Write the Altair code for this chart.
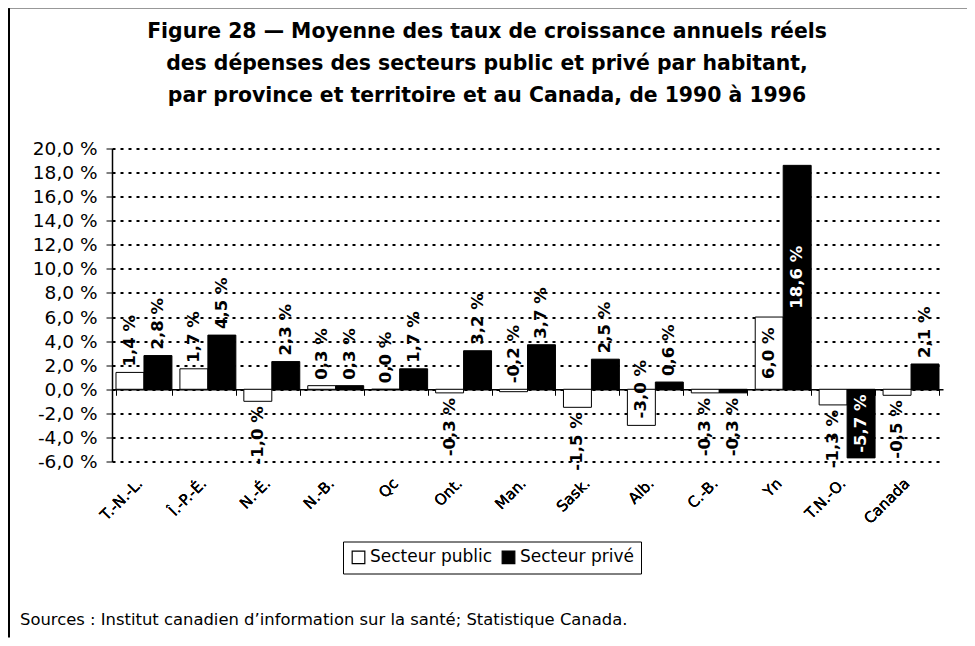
import altair as alt
import pandas as pd

# ---- data ----
categories = ["T.-N.-L.", "Î.-P.-É.", "N.-É.", "N.-B.", "Qc", "Ont.", "Man.",
              "Sask.", "Alb.", "C.-B.", "Yn", "T.N.-O.", "Canada"]
public = [1.4, 1.7, -1.0, 0.3, 0.0, -0.3, -0.2, -1.5, -3.0, -0.3, 6.0, -1.3, -0.5]
private = [2.8, 4.5, 2.3, 0.3, 1.7, 3.2, 3.7, 2.5, 0.6, -0.3, 18.6, -5.7, 2.1]
series = ["Secteur public", "Secteur privé"]
y_ticks = [-6, -4, -2, 0, 2, 4, 6, 8, 10, 12, 14, 16, 18, 20]

title_lines = [
    "Figure 28 — Moyenne des taux de croissance annuels réels",
    "des dépenses des secteurs public et privé par habitant,",
    "par province et territoire et au Canada, de 1990 à 1996",
]
source_text = "Sources : Institut canadien d\u2019information sur la santé; Statistique Canada."

# label placement exceptions (style only)
label_mode = {
    ("Man.", "Secteur public"): "above",
    ("Alb.", "Secteur public"): "zero",
    ("Yn", "Secteur public"): "mid",
    ("Yn", "Secteur privé"): "mid",
    ("T.N.-O.", "Secteur privé"): "mid",
}

FONT = "DejaVu Sans"

rows = []
for i, c in enumerate(categories):
    for s, vals in zip(series, [public, private]):
        v = vals[i]
        txt = ("-" if v < 0 else "") + f"{abs(v):.1f}".replace(".", ",") + " %"
        mode = label_mode.get((c, s), "end")
        if mode == "end":
            ly, al = v, ("left" if v >= 0 else "right")
        elif mode == "above":
            ly, al = 0.0, "left"
        elif mode == "zero":
            ly, al = 0.0, "center"
        else:
            ly, al = v / 2.0, "center"
        col = "white" if (s == "Secteur privé" and mode == "mid") else "black"
        rows.append({"cat": c, "series": s, "value": v, "label": txt,
                     "ly": ly, "al": al, "tcol": col})
df = pd.DataFrame(rows)

W, H = 831, 313
zero_off = -H * 6 / 26

xscale = alt.Scale(domain=categories, paddingInner=0.125, paddingOuter=0.0625)
yscale = alt.Scale(domain=[-6, 20], nice=False, zero=False)

base = alt.Chart(df)

bars = base.mark_bar(stroke="black", strokeWidth=1).encode(
    x=alt.X("cat:N", scale=xscale, sort=categories, title=None,
            axis=alt.Axis(orient="bottom", offset=zero_off, labels=False,
                          domain=True, domainColor="black", domainWidth=1.5,
                          ticks=True, tickColor="black", tickSize=6, tickWidth=1,
                          tickBand="extent", grid=False)),
    xOffset=alt.XOffset("series:N", sort=series),
    y=alt.Y("value:Q", scale=yscale, title=None,
            axis=alt.Axis(values=y_ticks, tickCount=len(y_ticks), labelOverlap=False,
                          labelExpr="(datum.value < 0 ? '-' : '') + replace(format(abs(datum.value), '.1f'), '.', ',') + ' %'",
                          labelFont=FONT, labelFontSize=18.5, labelColor="black",
                          labelPadding=9, domainColor="black", domainWidth=1.5,
                          tickColor="black", tickSize=6, grid=True,
                          gridColor="black", gridWidth=2, gridDash=[3, 5])),
    fill=alt.Fill("series:N", sort=series,
                  scale=alt.Scale(domain=series, range=["white", "black"]),
                  legend=alt.Legend(title=None, orient="none", direction="horizontal",
                                    legendX=231, legendY=393,
                                    symbolType="square", symbolSize=160,
                                    symbolStrokeColor="black", symbolStrokeWidth=1.2,
                                    labelFont=FONT, labelFontSize=17, labelColor="black",
                                    labelOffset=3, columnPadding=6, padding=7,
                                    strokeColor="black", fillColor="white")),
)

def text_layer(align, dx):
    return base.transform_filter(alt.datum.al == align).mark_text(
        angle=270, align=align, baseline="middle", dx=dx,
        font=FONT, fontSize=16.5, fontWeight="bold",
    ).encode(
        x=alt.X("cat:N", scale=xscale, sort=categories, title=None,
                axis=alt.Axis(orient="bottom", labelAngle=-45, labelFont=FONT,
                              labelFontSize=15, labelColor="black", domain=False,
                              ticks=False, grid=False, labelPadding=14,
                              labelOffset=-9)),
        xOffset=alt.XOffset("series:N", sort=series),
        y=alt.Y("ly:Q", scale=yscale),
        text="label:N",
        color=alt.Color("tcol:N", scale=None),
    )

t_left = text_layer("left", 6)
t_right = text_layer("right", -5)
t_center = text_layer("center", 0)

one = pd.DataFrame({"a": [0]})

title_mark = alt.Chart(one).mark_text(
    align="center", baseline="middle", font=FONT, fontSize=20.4, fontWeight="bold",
    color="black", lineHeight=32,
).encode(x=alt.value(375), y=alt.value(-116.5), text=alt.value(title_lines))

src = alt.Chart(pd.DataFrame({"t": [source_text]})).mark_text(
    align="left", baseline="middle", font=FONT, fontSize=16.4, color="black"
).encode(x=alt.value(-92), y=alt.value(471.5), text="t:N")

frame_left = alt.Chart(one).mark_rule(color="black", strokeWidth=2).encode(
    x=alt.value(-103), y=alt.value(-141), y2=alt.value(H + 176))
frame_top = alt.Chart(one).mark_rule(color="#333333", strokeWidth=2).encode(
    x=alt.value(-104), x2=alt.value(W + 24), y=alt.value(-141))

chart = alt.layer(bars, t_left, t_right, t_center, title_mark, src,
                  frame_left, frame_top).resolve_axis(
    x="independent"
).properties(
    width=W, height=H,
    autosize=alt.AutoSizeParams(type="none"),
    padding={"left": 104, "top": 140.5, "right": 24, "bottom": 176.5},
).configure(background="white", view=alt.ViewConfig(stroke=None))

chart.save("out.html", embed_options={"renderer": "svg", "actions": False})
